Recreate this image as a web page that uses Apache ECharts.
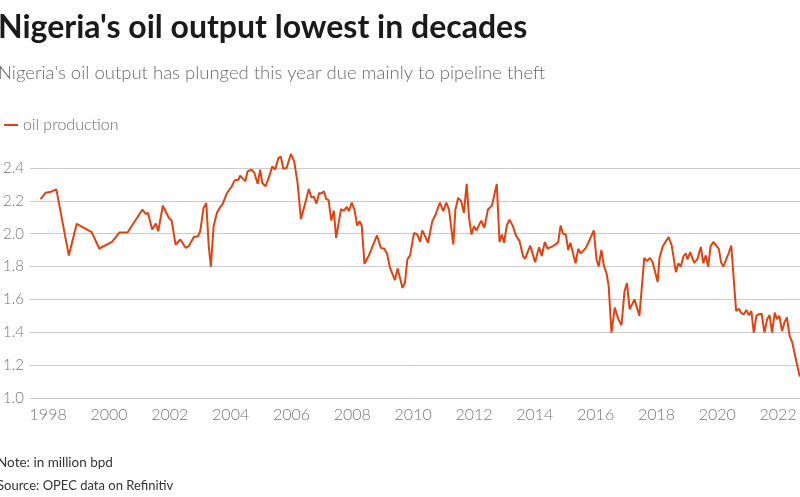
<!DOCTYPE html>
<html>
<head>
<meta charset="utf-8">
<script src="https://cdn.jsdelivr.net/npm/echarts@6/dist/echarts.min.js"></script>
<style>
html,body{margin:0;padding:0;background:#fff;}
#chart{width:800px;height:497px;}
</style>
</head>
<body>
<div id="chart"></div>
<script>
// Decimal-year positions of the monthly readings
var dates = [
1997.75,1997.92,1998.10,1998.27,1998.68,1998.94,1999.43,1999.68,2000.10,2000.34,2000.61,
2001.10,2001.21,2001.28,2001.42,2001.54,2001.62,2001.77,2001.97,2002.06,2002.19,2002.35,2002.52,2002.62,2002.79,2002.93,
2003.00,2003.11,2003.20,2003.28,2003.35,2003.44,2003.55,2003.66,2003.73,2003.88,
2004.04,2004.13,2004.26,2004.31,2004.48,2004.56,2004.69,2004.78,2004.89,2004.97,
2005.04,2005.15,2005.27,2005.37,2005.46,2005.57,2005.65,2005.73,2005.84,2005.98,
2006.09,2006.20,2006.31,2006.44,2006.57,2006.65,2006.74,2006.82,2006.91,2006.98,
2007.07,2007.14,2007.22,2007.31,2007.39,2007.47,2007.55,2007.63,2007.72,2007.82,2007.89,2007.98,
2008.07,2008.16,2008.24,2008.31,2008.40,2008.56,2008.81,2008.94,
2009.05,2009.14,2009.24,2009.40,2009.49,2009.65,2009.73,2009.81,2009.90,
2010.03,2010.14,2010.23,2010.30,2010.38,2010.49,2010.63,2010.74,2010.88,2010.99,
2011.09,2011.18,2011.32,2011.39,2011.48,2011.58,2011.67,2011.76,2011.84,2011.92,
2012.00,2012.08,2012.24,2012.34,2012.46,2012.59,2012.75,2012.84,2012.92,2012.99,
2013.08,2013.17,2013.28,2013.38,2013.50,2013.61,2013.68,2013.85,
2014.01,2014.14,2014.23,2014.33,2014.42,2014.55,2014.65,2014.77,2014.85,2014.93,
2015.02,2015.10,2015.17,2015.34,2015.43,2015.51,2015.68,2015.81,2015.94,
2016.03,2016.10,2016.19,2016.27,2016.36,2016.43,2016.52,2016.63,2016.74,2016.85,2016.95,
2017.03,2017.12,2017.28,2017.44,2017.60,2017.69,2017.79,2017.88,
2018.04,2018.10,2018.21,2018.40,2018.50,2018.64,2018.72,2018.80,2018.89,2018.97,
2019.02,2019.11,2019.24,2019.35,2019.46,2019.54,2019.62,2019.70,2019.78,2019.87,
2020.05,2020.13,2020.20,2020.31,2020.38,2020.46,2020.55,2020.62,2020.71,2020.80,2020.87,2020.96,
2021.04,2021.12,2021.20,2021.29,2021.37,2021.46,2021.55,2021.64,2021.72,2021.80,2021.89,2021.96,
2022.04,2022.13,2022.21,2022.29,2022.38,2022.46,2022.71
];
// Oil production, million bpd
var production = [
2.21,2.25,2.256,2.27,1.867,2.06,2.01,1.91,1.95,2.007,2.007,
2.147,2.12,2.127,2.025,2.062,2.015,2.17,2.096,2.08,1.934,1.965,1.914,1.924,1.98,1.985,
2.015,2.157,2.187,1.924,1.80,2.046,2.127,2.163,2.177,2.248,
2.289,2.325,2.329,2.353,2.32,2.38,2.39,2.37,2.303,2.39,
2.309,2.289,2.35,2.41,2.39,2.46,2.47,2.396,2.40,2.485,
2.44,2.309,2.09,2.177,2.272,2.222,2.224,2.183,2.248,2.244,
2.258,2.212,2.204,2.08,2.14,1.975,2.066,2.15,2.14,2.163,2.137,2.19,
2.147,2.05,2.076,2.05,1.817,1.874,1.99,1.914,
1.908,1.88,1.793,1.718,1.789,1.67,1.70,1.843,1.868,
2.005,1.995,1.95,2.02,1.99,1.945,2.076,2.117,2.19,2.137,
2.19,2.147,1.935,2.147,2.218,2.198,2.127,2.303,2.096,1.995,
2.046,2.02,2.08,2.036,2.147,2.171,2.303,1.95,1.995,1.945,
2.05,2.086,2.046,1.99,1.955,1.864,1.847,1.928,
1.827,1.918,1.864,1.95,1.91,1.92,1.93,1.95,2.05,2.0,
1.995,1.90,1.945,1.82,1.908,1.88,1.914,1.965,2.02,
1.843,1.80,1.90,1.807,1.758,1.681,1.398,1.55,1.483,1.443,1.65,
1.70,1.54,1.60,1.50,1.853,1.833,1.853,1.823,
1.706,1.853,1.924,1.98,1.93,1.766,1.82,1.80,1.864,1.88,
1.843,1.888,1.823,1.847,1.92,1.82,1.868,1.80,1.924,1.95,
1.908,1.823,1.80,1.853,1.884,1.928,1.70,1.53,1.543,1.515,1.51,1.536,
1.503,1.53,1.398,1.503,1.51,1.513,1.398,1.48,1.505,1.398,1.52,1.48,
1.50,1.408,1.46,1.49,1.378,1.342,1.13
];
var yearTicks = [1998,2000,2002,2004,2006,2008,2010,2012,2014,2016,2018,2020,2022];

var seriesData = dates.map(function(d, i){ return [d, production[i]]; });

var chart = echarts.init(document.getElementById('chart'));
var FONT = 'Lato, "Noto Sans", sans-serif';
chart.setOption({
  animation: false,
  backgroundColor: '#ffffff',
  textStyle: {fontFamily: FONT},
  graphic: [
    {type:'text', left:-2, top:12, style:{text:"Nigeria's oil output lowest in decades", font:'bold 32px ' + FONT, fill:'#1a1a1a'}},
    {type:'text', left:-2, top:64, style:{text:"Nigeria's oil output has plunged this year due mainly to pipeline theft", font:'300 18.5px ' + FONT, fill:'#6b6b6b'}},
    {type:'text', left:-3, top:456, style:{text:"Note: in million bpd", font:'13.5px ' + FONT, fill:'#333'}},
    {type:'text', left:-3, top:479, style:{text:"Source: OPEC data on Refinitiv", font:'13px ' + FONT, fill:'#333'}}
  ],
  legend: {
    left: -1, top: 112,
    icon: 'rect', itemWidth: 14, itemHeight: 2, itemGap: 10,
    textStyle: {color:'#6b6b6b', fontSize: 16, fontFamily: FONT, fontWeight: 300},
    data: ['oil production']
  },
  grid: {left: 25, right: 0, top: 168, bottom: 99, containLabel: false},
  xAxis: {
    type: 'value', min: 1997.4, max: 2022.72,
    axisLine: {show:false}, axisTick: {show:false}, splitLine: {show:false},
    axisLabel: {customValues: yearTicks, color:'#777', fontSize: 16, fontFamily: FONT, fontWeight: 300, margin: 9,
      formatter: function(v){ return String(Math.round(v)); }}
  },
  yAxis: {
    type: 'value', min: 1.0, max: 2.4, interval: 0.2,
    axisLine: {show:false}, axisTick: {show:false},
    splitLine: {lineStyle: {color:'#cccccc', width: 1}},
    axisLabel: {color:'#777', fontSize: 15, fontFamily: FONT, fontWeight: 300, margin: 6,
      formatter: function(v){ return v.toFixed(1); }}
  },
  series: [{
    name: 'oil production', type: 'line', data: seriesData,
    showSymbol: false, symbol: 'none', clip: false,
    lineStyle: {color:'#e2420f', width: 2},
    itemStyle: {color:'#e2420f'}
  }]
});
</script>
</body>
</html>
